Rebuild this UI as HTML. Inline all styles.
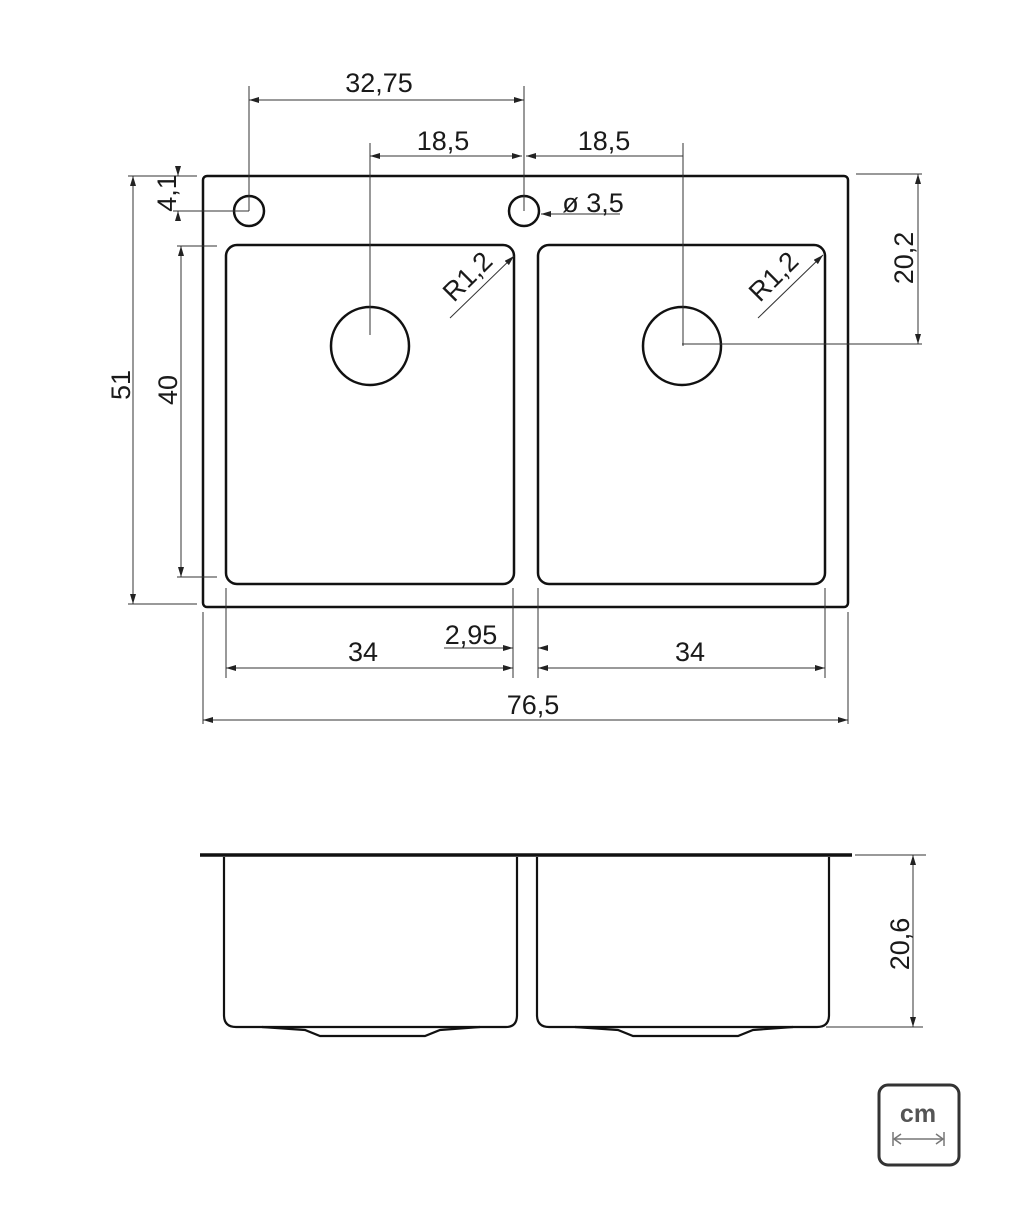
<!DOCTYPE html>
<html><head><meta charset="utf-8"><style>
html,body{margin:0;padding:0;background:#fff;}
svg{display:block;}
text{font-family:"Liberation Sans",sans-serif;font-size:27px;fill:#1a1a1a;}
</style></head><body>
<svg width="1024" height="1208" viewBox="0 0 1024 1208" xmlns="http://www.w3.org/2000/svg">
<defs>
<marker id="a" viewBox="0 0 10 6" refX="10" refY="3" markerWidth="10" markerHeight="6" orient="auto-start-reverse" markerUnits="userSpaceOnUse"><path d="M0,0 L10,3 L0,6 z" fill="#222"/></marker>
</defs>
<g fill="none" stroke="#111" stroke-width="2.5">
<rect x="203" y="176" width="645" height="431" rx="4"/>
<rect x="226" y="245" width="288" height="339" rx="11"/>
<rect x="538" y="245" width="287" height="339" rx="11"/>
<circle cx="249" cy="211" r="15"/>
<circle cx="524" cy="211" r="15"/>
<circle cx="370" cy="346" r="39"/>
<circle cx="682" cy="346" r="39"/>
</g>
<g stroke="#333" stroke-width="1" fill="none">
<line x1="249" y1="86" x2="249" y2="211"/>
<line x1="524" y1="86" x2="524" y2="211"/>
<line x1="249" y1="100" x2="524" y2="100" marker-start="url(#a)" marker-end="url(#a)"/>
<line x1="370" y1="143" x2="370" y2="335"/>
<line x1="683" y1="143" x2="683" y2="346"/>
<line x1="370" y1="156" x2="522" y2="156" marker-start="url(#a)" marker-end="url(#a)"/>
<line x1="526" y1="156" x2="683" y2="156" marker-start="url(#a)"/>
<line x1="178" y1="166" x2="178" y2="176" marker-end="url(#a)"/>
<line x1="178" y1="220" x2="178" y2="211"  marker-end="url(#a)"/>
<line x1="128" y1="176" x2="197" y2="176"/>
<line x1="173" y1="211" x2="249" y2="211"/>
<line x1="177" y1="246" x2="217" y2="246"/>
<line x1="177" y1="577" x2="217" y2="577"/>
<line x1="181" y1="246" x2="181" y2="577" marker-start="url(#a)" marker-end="url(#a)"/>
<line x1="128" y1="604" x2="197" y2="604"/>
<line x1="133" y1="176" x2="133" y2="604" marker-start="url(#a)" marker-end="url(#a)"/>
<line x1="620" y1="214" x2="541" y2="214" marker-end="url(#a)"/>
<line x1="856" y1="174" x2="922" y2="174"/>
<line x1="682" y1="344" x2="922" y2="344"/>
<line x1="918" y1="174" x2="918" y2="344" marker-start="url(#a)" marker-end="url(#a)"/>
<line x1="450" y1="318" x2="514" y2="256" marker-end="url(#a)"/>
<line x1="758" y1="318" x2="823" y2="255" marker-end="url(#a)"/>
<line x1="226" y1="588" x2="226" y2="678"/>
<line x1="513" y1="588" x2="513" y2="678"/>
<line x1="538" y1="588" x2="538" y2="678"/>
<line x1="825" y1="588" x2="825" y2="678"/>
<line x1="203" y1="612" x2="203" y2="724"/>
<line x1="848" y1="612" x2="848" y2="724"/>
<line x1="226" y1="668" x2="513" y2="668" marker-start="url(#a)" marker-end="url(#a)"/>
<line x1="538" y1="668" x2="825" y2="668" marker-start="url(#a)" marker-end="url(#a)"/>
<line x1="444" y1="648" x2="513" y2="648" marker-end="url(#a)"/>
<line x1="545" y1="648" x2="538" y2="648" marker-end="url(#a)"/>
<line x1="203" y1="720" x2="848" y2="720" marker-start="url(#a)" marker-end="url(#a)"/>
<line x1="855" y1="855" x2="926" y2="855"/>
<line x1="826" y1="1027" x2="923" y2="1027"/>
<line x1="913" y1="855" x2="913" y2="1027" marker-start="url(#a)" marker-end="url(#a)"/>
</g>
<text x="379" y="92" text-anchor="middle">32,75</text>
<text x="443" y="150" text-anchor="middle">18,5</text>
<text x="604" y="150" text-anchor="middle">18,5</text>
<text x="593" y="212" text-anchor="middle">ø 3,5</text>
<text x="363" y="661" text-anchor="middle">34</text>
<text x="690" y="661" text-anchor="middle">34</text>
<text x="471" y="644" text-anchor="middle">2,95</text>
<text x="533" y="714" text-anchor="middle">76,5</text>
<text transform="translate(176,193) rotate(-90)" text-anchor="middle">4,1</text>
<text transform="translate(177,390) rotate(-90)" text-anchor="middle">40</text>
<text transform="translate(130,385) rotate(-90)" text-anchor="middle">51</text>
<text transform="translate(913,258) rotate(-90)" text-anchor="middle">20,2</text>
<text transform="translate(909,944) rotate(-90)" text-anchor="middle">20,6</text>
<text transform="translate(474,283) rotate(-45)" text-anchor="middle">R1,2</text>
<text transform="translate(780,283) rotate(-45)" text-anchor="middle">R1,2</text>
<line x1="200" y1="855" x2="852" y2="855" stroke="#111" stroke-width="3.5"/>
<g fill="none" stroke="#111" stroke-width="2.2">
<path d="M224 857 V1015 Q224 1027 236 1027 H506 Q517 1027 517 1015 V857"/>
<path d="M537 857 V1015 Q537 1027 549 1027 H817 Q829 1027 829 1015 V857"/>
<path d="M262 1027 L305 1030 L320 1036 H425 L440 1030 L480 1027"/>
<path d="M575 1027 L618 1030 L633 1036 H738 L753 1030 L793 1027"/>
</g>
<rect x="879" y="1085" width="80" height="80" rx="9" fill="none" stroke="#333" stroke-width="3"/>
<text x="918" y="1122" text-anchor="middle" style="font-size:25px;font-weight:bold;fill:#555">cm</text>
<g stroke="#777" stroke-width="1.5" fill="none">
<line x1="893" y1="1132" x2="893" y2="1146"/>
<line x1="944" y1="1132" x2="944" y2="1146"/>
<line x1="894" y1="1139" x2="943" y2="1139"/>
<path d="M901 1134 L894 1139 L901 1144"/>
<path d="M936 1134 L943 1139 L936 1144"/>
</g>
</svg>
</body></html>
